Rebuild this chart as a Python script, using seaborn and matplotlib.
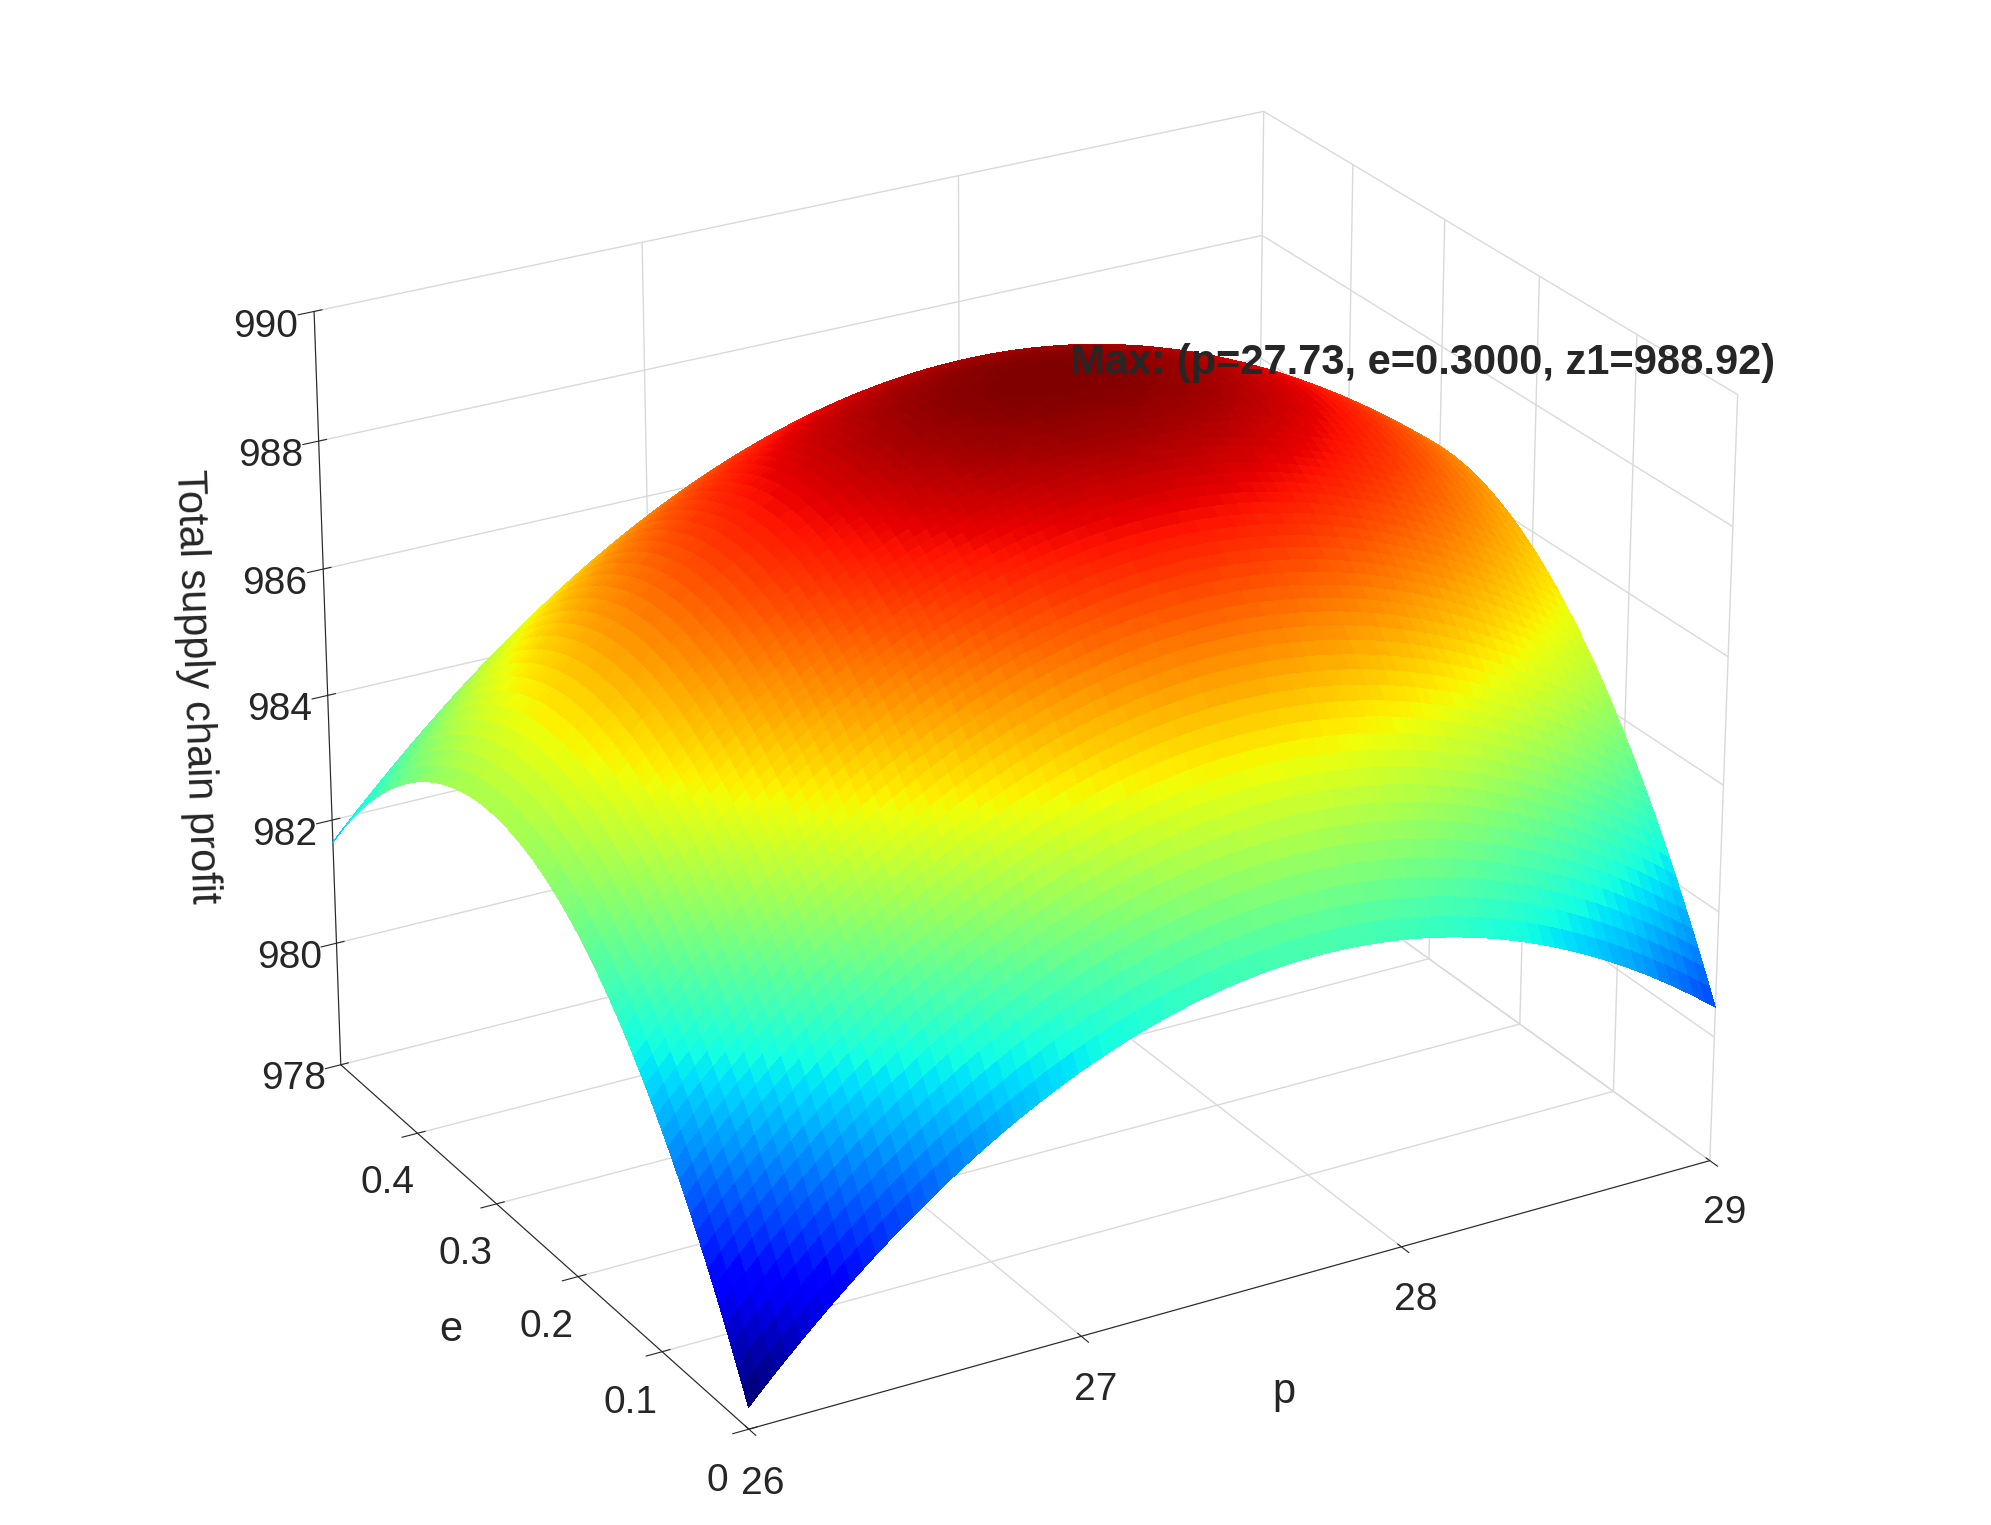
import numpy as np
import seaborn as sns
import matplotlib.pyplot as plt

sns.set_style("white")
plt.rcParams["font.family"] = ["Arial", "Liberation Sans", "DejaVu Sans"]

# values
p_range = [26, 29]
e_range = [0, 0.5]
z_limits = [978, 990]
p_ticks = [26, 27, 28, 29]
e_ticks = [0, 0.1, 0.2, 0.3, 0.4]
z_ticks = [978, 980, 982, 984, 986, 988, 990]
p_star, e_star, z_star = 27.73, 0.30, 988.92
# quadratic profit surface, curvatures estimated from the corner heights
curv_p = 1.55
curv_e = 66.0

p = np.linspace(p_range[0], p_range[1], 80)
e = np.linspace(e_range[0], e_range[1], 80)
P, E = np.meshgrid(p, e)
Z = z_star - curv_p * (P - p_star) ** 2 - curv_e * (E - e_star) ** 2

fig = plt.figure(figsize=(19.91, 15.25), dpi=100)
ax = fig.add_subplot(111, projection="3d")
ax.set_position([-0.04, -0.05, 1.08, 1.1])

ax.plot_surface(P, E, Z, cmap="jet", rstride=1, cstride=1, linewidth=0,
                antialiased=False, shade=False)
ax.scatter([p_star], [e_star], [z_star], color="red", s=180, depthshade=False, zorder=10)
ax.text(p_star, e_star, z_star + 0.05,
        f"  Max: (p={p_star:.2f}, e={e_star:.4f}, z1={z_star:.2f})",
        fontsize=30, fontweight="bold", zorder=11)

ax.set_xlim(p_range)
ax.set_ylim(e_range)
ax.set_zlim(z_limits)
ax.set_xticks(p_ticks)
ax.set_yticks(e_ticks)
ax.set_yticklabels(["0", "0.1", "0.2", "0.3", "0.4"])
ax.set_zticks(z_ticks)
ax.tick_params(labelsize=28)
ax.tick_params(axis="x", pad=12)
ax.tick_params(axis="y", pad=12)
ax.tick_params(axis="z", pad=14)
ax.set_xlabel("p", fontsize=30, labelpad=35)
ax.set_ylabel("e", fontsize=30, labelpad=35)
ax.set_zlabel("Total supply chain profit", fontsize=30, labelpad=40)

for axis in (ax.xaxis, ax.yaxis, ax.zaxis):
    axis.set_pane_color((1, 1, 1, 0))
    axis._axinfo["grid"]["color"] = (0.85, 0.85, 0.85, 1)
    axis._axinfo["grid"]["linewidth"] = 1.0

ax.view_init(elev=25, azim=-120)
ax.set_box_aspect((1.25, 1, 0.95), zoom=0.95)

plt.savefig("out.png", dpi=100)
